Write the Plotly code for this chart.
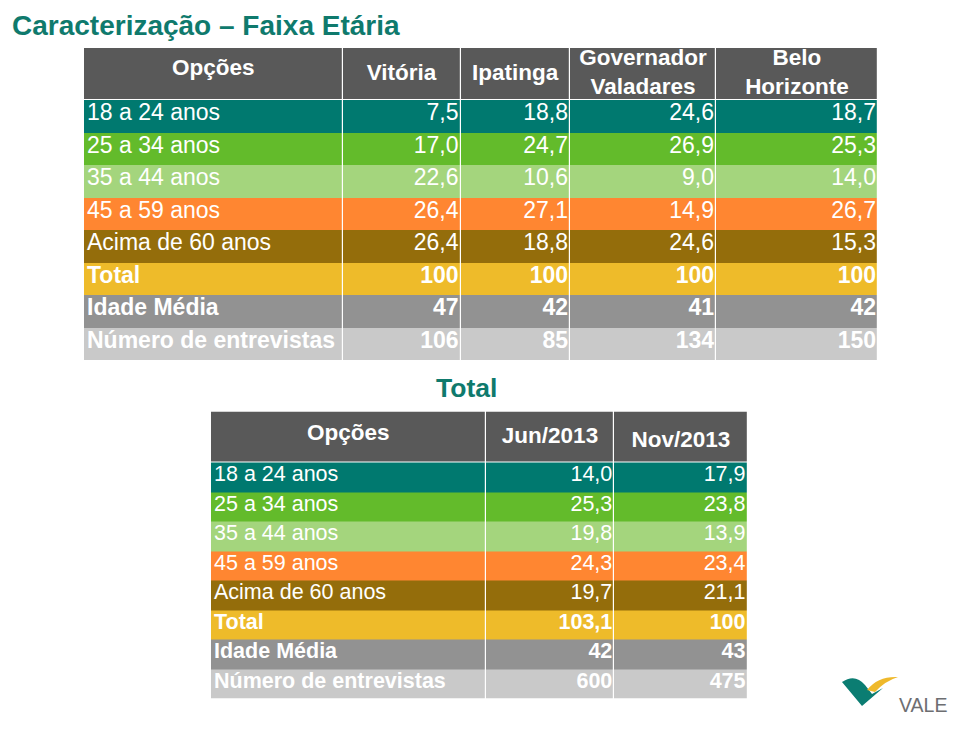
import plotly.graph_objects as go

# ---------------- data ----------------
categories = ["18 a 24 anos", "25 a 34 anos", "35 a 44 anos", "45 a 59 anos",
              "Acima de 60 anos", "Total", "Idade Média", "Número de entrevistas"]
cities = ["Vitória", "Ipatinga", "Governador<br>Valadares", "Belo<br>Horizonte"]
vitoria = [7.5, 17.0, 22.6, 26.4, 26.4, 100, 47, 106]
ipatinga = [18.8, 24.7, 10.6, 27.1, 18.8, 100, 42, 85]
gov_valadares = [24.6, 26.9, 9.0, 14.9, 24.6, 100, 41, 134]
belo_horizonte = [18.7, 25.3, 14.0, 26.7, 15.3, 100, 42, 150]

periods = ["Jun/2013", "Nov/2013"]
jun_2013 = [14.0, 25.3, 19.8, 24.3, 19.7, 103.1, 42, 600]
nov_2013 = [17.9, 23.8, 13.9, 23.4, 21.1, 100, 43, 475]

options_header = "Opções"
title_text = "Caracterização – Faixa Etária"
total_label = "Total"

# ---------------- style ----------------
PAGE_W, PAGE_H = 959, 733
OFF = 8                      # default page margin of the html body
W, H = PAGE_W - OFF, PAGE_H - OFF
FONT = "Liberation Sans, Arial, sans-serif"
TEAL_TXT = "#0f7a6d"
HEADER_C = "#595959"
ROW_COLORS = ["#00796f", "#63bb2b", "#a4d57d", "#ff8631",
              "#946d0b", "#eebb2a", "#929292", "#c9c9c9"]
BOLD_ROWS = {5, 6, 7}


def px(x):
    return (x - OFF) / W


def py(y):
    return 1 - (y - OFF) / H


def fmt(v, row):
    if row < 5 or abs(v - round(v)) > 1e-9:
        return f"{v:.1f}".replace(".", ",")
    return str(int(round(v)))


fig = go.Figure()

palette = [HEADER_C] + ROW_COLORS
n = len(palette)
colorscale = []
for i, c in enumerate(palette):
    colorscale.append([i / n, c])
    colorscale.append([(i + 1) / n, c])


def add_table(ax, left, top, colw, header_h, gap, row_h, headers, columns,
              fs_body, fs_head, body_dy, head_y):
    xa = "x" if ax == 1 else f"x{ax}"
    ya = "y" if ax == 1 else f"y{ax}"
    width = sum(colw)
    height = header_h + gap + row_h * len(categories)
    xedges = [0]
    for w in colw:
        xedges.append(xedges[-1] + w)
    yedges = [0, header_h, header_h + gap]
    for i in range(len(categories)):
        yedges.append(header_h + gap + row_h * (i + 1))
    ncol = len(colw)
    z = [[0] * ncol, [None] * ncol]
    for i in range(len(categories)):
        z.append([i + 1] * ncol)
    fig.add_trace(go.Heatmap(
        x=xedges, y=yedges, z=z, colorscale=colorscale, zmin=-0.5, zmax=n - 0.5,
        showscale=False, xgap=1.2, hoverinfo="skip", xaxis=xa, yaxis=ya))

    # header text
    hx, hy, ht = [], [], []
    for j, lab in enumerate([options_header] + headers):
        hx.append((xedges[j] + xedges[j + 1]) / 2)
        hy.append(head_y[j])
        ht.append(f"<b>{lab}</b>")
    fig.add_trace(go.Scatter(
        x=hx, y=hy, text=ht, mode="text", textposition="middle center",
        textfont=dict(family=FONT, size=fs_head, color="white"),
        hoverinfo="skip", cliponaxis=False, xaxis=xa, yaxis=ya))

    # row labels
    ycent = [header_h + gap + row_h * (i + 0.5) + body_dy for i in range(len(categories))]
    lt = [f"<b>{c}</b>" if i in BOLD_ROWS else c for i, c in enumerate(categories)]
    fig.add_trace(go.Scatter(
        x=[3] * len(categories), y=ycent, text=lt, mode="text",
        textposition="middle right",
        textfont=dict(family=FONT, size=fs_body, color="white"),
        hoverinfo="skip", cliponaxis=False, xaxis=xa, yaxis=ya))

    # values
    vx, vy, vt = [], [], []
    for j, col in enumerate(columns):
        for i, v in enumerate(col):
            vx.append(xedges[j + 2] - 2)
            vy.append(ycent[i])
            s = fmt(v, i)
            vt.append(f"<b>{s}</b>" if i in BOLD_ROWS else s)
    fig.add_trace(go.Scatter(
        x=vx, y=vy, text=vt, mode="text", textposition="middle left",
        textfont=dict(family=FONT, size=fs_body, color="white"),
        hoverinfo="skip", cliponaxis=False, xaxis=xa, yaxis=ya))

    dom_x = [px(left), px(left + width)]
    dom_y = [py(top + height), py(top)]
    axx = dict(domain=dom_x, range=[0, width], visible=False, fixedrange=True,
               showgrid=False, zeroline=False)
    axy = dict(domain=dom_y, range=[height, 0], visible=False, fixedrange=True,
               showgrid=False, zeroline=False)
    if ax == 1:
        fig.update_layout(xaxis=axx, yaxis=dict(axy, anchor="x"))
    else:
        fig.update_layout(**{f"xaxis{ax}": dict(axx, anchor=f"y{ax}"),
                             f"yaxis{ax}": dict(axy, anchor=f"x{ax}")})


add_table(1, 84, 48, [258.5, 118, 109.5, 146, 162], 50.5, 1.5, 32.5,
          cities, [vitoria, ipatinga, gov_valadares, belo_horizonte],
          23, 22.5, -2.0,
          [21.4, 25.9, 25.9, 25.6, 25.6])

add_table(2, 211, 411.5, [274.7, 128.6, 133.2], 49.5, 1.5, 29.5,
          periods, [jun_2013, nov_2013],
          21.5, 22.5, -1.2,
          [22.9, 25.9, 29.4])

fig.add_annotation(x=px(10), y=py(26), xref="paper", yref="paper",
                   text=f"<b>{title_text}</b>", showarrow=False,
                   xanchor="left", yanchor="middle",
                   font=dict(family=FONT, size=28, color=TEAL_TXT))
fig.add_annotation(x=px(466), y=py(388), xref="paper", yref="paper",
                   text=f"<b>{total_label}</b>", showarrow=False,
                   xanchor="center", yanchor="middle",
                   font=dict(family=FONT, size=26.5, color=TEAL_TXT))


# VALE logo (decorative)
def path(points):
    s = ""
    for cmd, pts in points:
        s += cmd + " " + " ".join(f"{px(a):.5f},{py(b):.5f}" for a, b in pts) + " "
    return s + "Z"


teal_path = path([("M", [(842, 682)]), ("Q", [(855, 673), (865, 685)]),
                  ("L", [(872, 694)]), ("L", [(883, 688)]), ("L", [(862, 706)])])
yellow_path = path([("M", [(867, 690)]), ("Q", [(878, 676), (898, 677)]),
                    ("Q", [(885, 681), (875, 692)])])
fig.add_shape(type="path", path=teal_path, xref="paper", yref="paper",
              fillcolor="#0b7d72", line=dict(width=0))
fig.add_shape(type="path", path=yellow_path, xref="paper", yref="paper",
              fillcolor="#efb92c", line=dict(width=0))
fig.add_annotation(x=px(923), y=py(705), xref="paper", yref="paper",
                   text="VALE", showarrow=False, xanchor="center", yanchor="middle",
                   font=dict(family=FONT, size=19.5, color="#6d6e71"))

fig.update_layout(width=W, height=H, margin=dict(l=0, r=0, t=0, b=0),
                  paper_bgcolor="white", plot_bgcolor="white", showlegend=False)

fig.write_html("out.html")
